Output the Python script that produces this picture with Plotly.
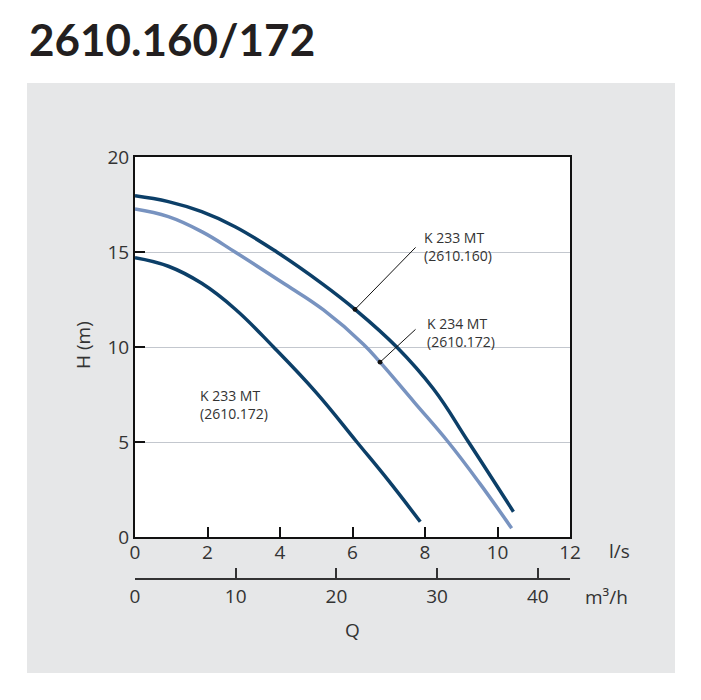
import plotly.graph_objects as go

# ---- data (Q in l/s, H in m) ----
q_k233_160 = [0, 0.92, 1.84, 2.76, 3.91, 5.15, 6.07, 7.22, 8.23, 9.20, 10.44]
h_k233_160 = [17.96, 17.65, 17.12, 16.33, 15.0, 13.35, 11.98, 10.0, 7.8, 5.0, 1.33]

q_k234_172 = [0, 0.92, 1.84, 2.76, 4.14, 5.2, 6.3, 6.76, 7.7, 8.64, 9.5, 10.39]
h_k234_172 = [17.26, 16.86, 16.07, 15.0, 13.3, 11.95, 10.15, 9.2, 7.1, 5.0, 2.85, 0.46]

q_k233_172 = [0, 0.92, 1.84, 2.76, 3.82, 5.0, 6.12, 7.0, 7.87]
h_k233_172 = [14.7, 14.25, 13.35, 12.0, 10.0, 7.6, 5.0, 2.95, 0.8]

ls_ticks = [0, 2, 4, 6, 8, 10, 12]
m3h_ticks = [0, 10, 20, 30, 40]
h_ticks = [0, 5, 10, 15, 20]
LS_TO_M3H = 3.6

title_text = "2610.160/172"
label_160 = "K 233 MT<br>(2610.160)"
label_234 = "K 234 MT<br>(2610.172)"
label_172 = "K 233 MT<br>(2610.172)"

DARK = "#0c3f68"
LIGHT = "#7893c0"
TXT = "#333333"
FONT = "Open Sans"

fig = go.Figure()
for qs, hs, col in [(q_k233_160, h_k233_160, DARK),
                    (q_k234_172, h_k234_172, LIGHT),
                    (q_k233_172, h_k233_172, DARK)]:
    fig.add_trace(go.Scatter(x=qs, y=hs, mode="lines",
                             line=dict(color=col, width=3.5, shape="spline", smoothing=1.2),
                             hoverinfo="skip", showlegend=False))
# invisible trace to carry the m3/h axis
fig.add_trace(go.Scatter(x=[q * LS_TO_M3H for q in q_k233_160], y=h_k233_160,
                         xaxis="x2", yaxis="y", mode="lines", opacity=0,
                         hoverinfo="skip", showlegend=False))

# plot area (screen px): x 135..570, y 157..600 ; page offset 8px
PL, PR, PT, PB = 135, 570, 157, 600
W = PR - PL
H = PB - PT


def px(x):
    return (x - PL) / W


def py(y):
    return (PB - y) / H


ydom0 = py(537)
x2pos = py(579)

fig.update_layout(
    width=701, height=700,
    margin=dict(l=PL - 8, r=701 - (PR - 8), t=PT - 8, b=700 - (PB - 8)),
    paper_bgcolor="white", plot_bgcolor="rgba(0,0,0,0)",
    font=dict(family=FONT, color=TXT, size=19),
    xaxis=dict(range=[0, 12], tickvals=ls_ticks, ticks="inside", ticklen=10,
               tickwidth=1.5, tickcolor="#111", showline=True, linecolor="#111",
               linewidth=2, mirror=True, showgrid=False, zeroline=False,
               anchor="y", ticklabelstandoff=-3, tickfont=dict(size=19, color=TXT)),
    yaxis=dict(range=[0, 20], tickvals=h_ticks, ticks="inside", ticklen=10,
               tickwidth=1.5, tickcolor="#111", showline=True, linecolor="#111",
               linewidth=2, mirror=True, showgrid=True, gridcolor="#c3c7ce",
               gridwidth=1, zeroline=False, domain=[ydom0, 1],
               tickfont=dict(size=19, color=TXT)),
    xaxis2=dict(range=[0, 12 * LS_TO_M3H], tickvals=m3h_ticks, ticks="inside",
                ticklen=10, tickwidth=1.5, tickcolor="#333", showline=True,
                linecolor="#333", linewidth=1.5, showgrid=False, zeroline=False,
                overlaying="x", anchor="free", position=x2pos, side="bottom",
                tickfont=dict(size=19, color=TXT)),
)

# backgrounds
fig.add_shape(type="rect", xref="paper", yref="paper",
              x0=px(27), x1=px(675), y0=py(673), y1=py(83),
              fillcolor="#e6e7e8", line=dict(width=0), layer="below")
fig.add_shape(type="rect", xref="x domain", yref="y domain", x0=0, x1=1, y0=0, y1=1,
              fillcolor="white", line=dict(width=0), layer="below")

# title
fig.add_annotation(text="<b>" + title_text + "</b>", xref="paper", yref="paper",
                   x=px(27), y=py(39), xanchor="left", yanchor="middle",
                   showarrow=False, font=dict(family="Lato", size=44, color="#231f20"))


# axis unit labels
def plabel(text, x, y, angle=0):
    fig.add_annotation(text=text, xref="paper", yref="paper", x=px(x), y=py(y),
                       xanchor="center", yanchor="middle", showarrow=False,
                       textangle=angle, font=dict(size=19, color=TXT))


plabel("l/s", 619, 551)
plabel("m³/h", 606, 597)
plabel("Q", 352, 630)
plabel("H (m)", 83, 345, -90)

# curve labels
lab_font = dict(size=14, color=TXT)
fig.add_annotation(text=label_160, x=7.92, y=15.31, xanchor="left", yanchor="middle",
                   align="left", showarrow=False, font=lab_font)
fig.add_annotation(text=label_234, x=8.0, y=10.76, xanchor="left", yanchor="middle",
                   align="left", showarrow=False, font=lab_font)
fig.add_annotation(text=label_172, x=1.74, y=7.0, xanchor="left", yanchor="middle",
                   align="left", showarrow=False, font=lab_font)

# leader lines with dots on curves
fig.add_annotation(text="", x=q_k233_160[6], y=h_k233_160[6], ax=7.78, ay=15.32,
                   axref="x", ayref="y", showarrow=True, arrowhead=6, arrowsize=1.2,
                   arrowwidth=1, arrowcolor="#111", standoff=0)
fig.add_annotation(text="", x=q_k234_172[7], y=h_k234_172[7], ax=7.78, ay=11.0,
                   axref="x", ayref="y", showarrow=True, arrowhead=6, arrowsize=1.2,
                   arrowwidth=1, arrowcolor="#111", standoff=0)

fig.write_html("out.html")
